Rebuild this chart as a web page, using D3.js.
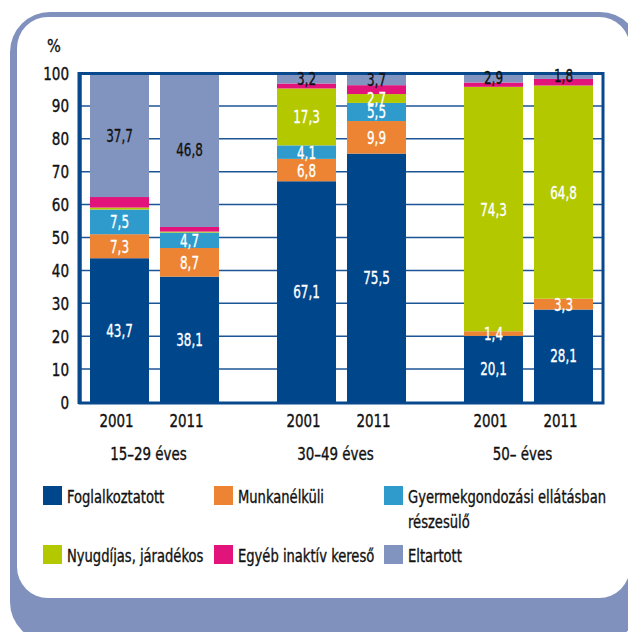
<!DOCTYPE html>
<html>
<head>
<meta charset="utf-8">
<script src="https://cdn.jsdelivr.net/npm/d3@7"></script>
<style>
html,body{margin:0;padding:0;background:#fff;}
svg{display:block;}
text{font-family:"DejaVu Sans Condensed","DejaVu Sans",sans-serif;font-stretch:condensed;fill:#111;stroke:#111;stroke-width:0.35px;}
</style>
</head>
<body>
<svg id="chart" width="628" height="632"></svg>
<script>
// ---- data ----
const groups = ["15–29 éves", "30–49 éves", "50– éves"];
const years = ["2001", "2011"];
const seriesNames = ["Foglalkoztatott", "Munkanélküli", "Gyermekgondozási ellátásban részesülő", "Nyugdíjas, járadékos", "Egyéb inaktív kereső", "Eltartott"];
const legendLines = [["Foglalkoztatott"], ["Munkanélküli"], ["Gyermekgondozási ellátásban", "részesülő"], ["Nyugdíjas, járadékos"], ["Egyéb inaktív kereső"], ["Eltartott"]];
// values per bar in order: 15–29 2001, 15–29 2011, 30–49 2001, 30–49 2011, 50– 2001, 50– 2011
const foglalkoztatott = [43.7, 38.1, 67.1, 75.5, 20.1, 28.1];
const munkanelkuli    = [7.3, 8.7, 6.8, 9.9, 1.4, 3.3];
const gyermek         = [7.5, 4.7, 4.1, 5.5, 0, 0];
const nyugdijas       = [0.6, 0.3, 17.3, 2.7, 74.3, 64.8];
const egyeb           = [3.2, 1.4, 1.5, 2.7, 1.3, 2.0];
const eltartott       = [37.7, 46.8, 3.2, 3.7, 2.9, 1.8];
const labeled         = [true, true, true, true, false, true];
const yTicks = [0, 10, 20, 30, 40, 50, 60, 70, 80, 90, 100];
const colors = ["#00468a", "#ec8434", "#2e9bcc", "#b4c800", "#e2137b", "#8193bf"];
const labelColors = ["#fff", "#fff", "#fff", "#fff", "#fff", "#111"];

const seriesValues = [foglalkoztatott, munkanelkuli, gyermek, nyugdijas, egyeb, eltartott];
const bars = [];
groups.forEach((g, gi) => years.forEach((yr, yi) => {
  const row = {group: g, year: yr};
  seriesNames.forEach((s, si) => row[s] = seriesValues[si][gi * 2 + yi]);
  bars.push(row);
}));

// condense text horizontally (reference uses a condensed typeface)
function squeeze(sel, sx) {
  sel.each(function() {
    const t = d3.select(this);
    const x = +t.attr("x"), yv = +t.attr("y");
    t.attr("transform", `translate(${x},${yv}) scale(${sx},1)`).attr("x", 0).attr("y", 0);
  });
}

const svg = d3.select("#chart");

// ---- frame ----
svg.append("rect").attr("x", 10).attr("y", 12).attr("width", 630).attr("height", 630).attr("rx", 40).attr("fill", "#8191be");
svg.append("rect").attr("x", 17).attr("y", 17).attr("width", 613).attr("height", 581).attr("rx", 31).attr("fill", "#fff");

// ---- scales ----
const plot = {left: 80, right: 603, top: 73, bottom: 402};
const y = d3.scaleLinear().domain([0, 100]).range([plot.bottom, plot.top]);
const xGroup = d3.scalePoint().domain(groups).range([154.5, 528.5]);
const xYear = d3.scaleBand().domain(years).range([-64.5, 64.5]).paddingInner(0.157).paddingOuter(0);
const barX = d => xGroup(d.group) + xYear(d.year);

// gridlines
svg.append("g").selectAll("line").data(yTicks.filter(t => t > 0 && t < 100)).join("line")
  .attr("x1", plot.left).attr("x2", plot.right)
  .attr("y1", d => y(d)).attr("y2", d => y(d))
  .attr("stroke", "#1b5596").attr("stroke-width", 1.5);

// stacked bars
const stack = d3.stack().keys(seriesNames);
const stacked = stack(bars);
const layers = svg.append("g").selectAll("g").data(stacked).join("g")
  .attr("fill", (d, i) => colors[i]);
layers.selectAll("rect").data(d => d).join("rect")
  .attr("x", d => barX(d.data))
  .attr("width", xYear.bandwidth())
  .attr("y", d => y(d[1]))
  .attr("height", d => y(d[0]) - y(d[1]));

// frame of plot
svg.append("rect").attr("x", plot.left).attr("y", plot.top + 0.5).attr("width", plot.right - plot.left).attr("height", plot.bottom - plot.top + 0.5)
  .attr("fill", "none").attr("stroke", "#07498c").attr("stroke-width", 3);
svg.append("line").attr("x1", plot.left - 0.5).attr("x2", plot.left - 0.5).attr("y1", plot.top - 1).attr("y2", plot.bottom + 2)
  .attr("stroke", "#07498c").attr("stroke-width", 4);

// value labels
stacked.forEach((layer, si) => {
  if (!labeled[si]) return;
  const lbl = svg.append("g").selectAll("text").data(layer.filter(d => d[1] - d[0] >= 1)).join("text")
    .attr("x", d => barX(d.data) + xYear.bandwidth() / 2)
    .attr("y", d => y((d[0] + d[1]) / 2) + 6.5)
    .attr("text-anchor", "middle")
    .style("font-size", "18px")
    .style("fill", labelColors[si])
    .style("stroke", labelColors[si])
    .text(d => d3.format(".1f")(d[1] - d[0]).replace(".", ","));
  squeeze(lbl, 0.74);
});

// y axis labels
const yl = svg.append("g").selectAll("text").data(yTicks).join("text")
  .attr("x", 69).attr("y", d => y(d) + 6.5)
  .attr("text-anchor", "end").style("font-size", "17.5px")
  .text(d => d);
squeeze(yl, 0.86);
const pct = svg.append("text").attr("x", 54).attr("y", 52).attr("text-anchor", "middle").style("font-size", "18px").text("%");
squeeze(pct, 0.9);

// x labels
const xl = svg.append("g").selectAll("text").data(bars).join("text")
  .attr("x", d => barX(d) + xYear.bandwidth() / 2 - 3).attr("y", 427)
  .attr("text-anchor", "middle").style("font-size", "18px").text(d => d.year);
squeeze(xl, 0.83);
const gl = svg.append("g").selectAll("text").data(groups).join("text")
  .attr("x", d => xGroup(d) - 6).attr("y", 460)
  .attr("text-anchor", "middle").style("font-size", "18px").text(d => d);
squeeze(gl, 0.83);

// legend
const legCols = [43, 214, 384];
const legRows = [486, 545];
const leg = svg.append("g").selectAll("g").data(seriesNames).join("g")
  .attr("transform", (d, i) => `translate(${legCols[i % 3]},${legRows[Math.floor(i / 3)]})`);
leg.append("rect").attr("width", 19).attr("height", 19).attr("fill", (d, i) => colors[i]);
leg.append("text").attr("transform", "translate(24,17) scale(0.81,1)").style("font-size", "18px")
  .each(function(d, i) {
    const t = d3.select(this);
    legendLines[i].forEach((ln, li) => t.append("tspan").attr("x", 0).attr("dy", li === 0 ? 0 : 25).text(ln));
  });
</script>
</body>
</html>
